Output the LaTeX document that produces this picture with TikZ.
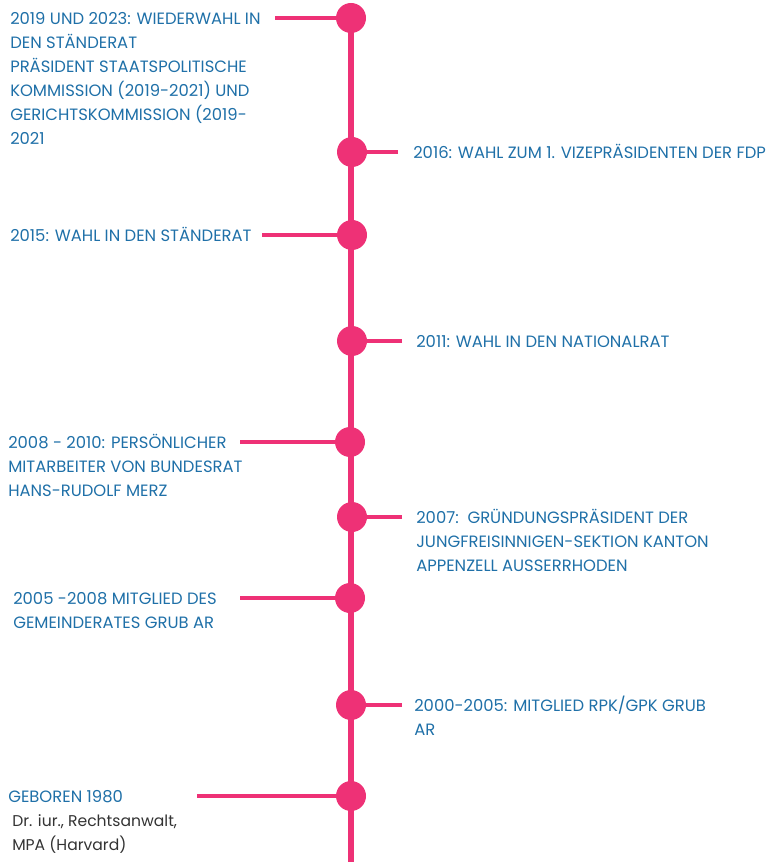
\documentclass[tikz,border=0pt]{standalone}
\usepackage{fontspec}
\setmainfont{Poppins}
\usepackage{xcolor}
\usetikzlibrary{positioning}
\definecolor{tlpink}{HTML}{EE3176}
\definecolor{tlblue}{HTML}{1F70A8}
\definecolor{tldark}{HTML}{333333}

\begin{document}
\begin{tikzpicture}[
  x=0.75pt, y=-0.75pt,
  dot/.style={circle, fill=tlpink, inner sep=0pt, minimum size=22.5pt},
  stub/.style={draw=tlpink, line width=3pt},
  spine/.style={draw=tlpink, line width=4.5pt},
  entry/.style={anchor=north west, inner sep=0pt, align=left, text=tlblue,
    font=\fontsize{12.3}{18}\selectfont},
  note/.style={entry, text=tldark, font=\fontsize{11.7}{18}\selectfont}
]
\useasboundingbox (0,0) rectangle (773,862);

% Main spine
\coordinate (top) at (351,18);
\coordinate (bottom) at (351,862);
\draw[spine] (top) -- (bottom);

% Dots
\node[dot] (d2019) at (351,18) {};
\node[dot] (d2016) at (352,152) {};
\node[dot] (d2015) at (352,235) {};
\node[dot] (d2011) at (352,341) {};
\node[dot] (d2008) at (350,442) {};
\node[dot] (d2007) at (352,517) {};
\node[dot] (d2005) at (350,598) {};
\node[dot] (d2000) at (351,705) {};
\node[dot] (d1980) at (351,796) {};

% Stubs
\coordinate (s2019) at (275,18);
\coordinate (s2016) at (398,152);
\coordinate (s2015) at (262,235);
\coordinate (s2011) at (402,341);
\coordinate (s2008) at (240,442);
\coordinate (s2007) at (402,517);
\coordinate (s2005) at (240,598);
\coordinate (s2000) at (402,705);
\coordinate (s1980) at (197,796);
\foreach \y in {2019,2016,2015,2011,2008,2007,2005,2000,1980}
  \draw[stub] (s\y) -- (d\y);

% Texts
\node[entry] (t2019) at (10,7) {\strut 2019 UND 2023: WIEDERWAHL IN\\DEN STÄNDERAT\\PRÄSIDENT STAATSPOLITISCHE\\KOMMISSION (2019-2021) UND\\GERICHTSKOMMISSION (2019-\\2021};
\node[entry] (t2016) at (413,141) {\strut 2016: WAHL ZUM 1. VIZEPRÄSIDENTEN DER FDP};
\node[entry] (t2015) at (10,224) {\strut 2015: WAHL IN DEN STÄNDERAT};
\node[entry] (t2011) at (416,330) {\strut 2011: WAHL IN DEN NATIONALRAT};
\node[entry] (t2008) at (8,431) {\strut 2008 - 2010: PERSÖNLICHER\\MITARBEITER VON BUNDESRAT\\HANS-RUDOLF MERZ};
\node[entry] (t2007) at (416,506) {\strut 2007:\ \ GRÜNDUNGSPRÄSIDENT DER\\JUNGFREISINNIGEN-SEKTION KANTON\\APPENZELL AUSSERRHODEN};
\node[entry] (t2005) at (13,587) {\strut 2005 -2008 MITGLIED DES\\GEMEINDERATES GRUB AR};
\node[entry] (t2000) at (414,694) {\strut 2000-2005: MITGLIED RPK/GPK GRUB\\AR};
\node[entry] (t1980) at (8,785) {\strut GEBOREN 1980};
\node[note] (n1980) at (12,809) {\strut Dr. iur., Rechtsanwalt,\\MPA (Harvard)};

\end{tikzpicture}
\end{document}
